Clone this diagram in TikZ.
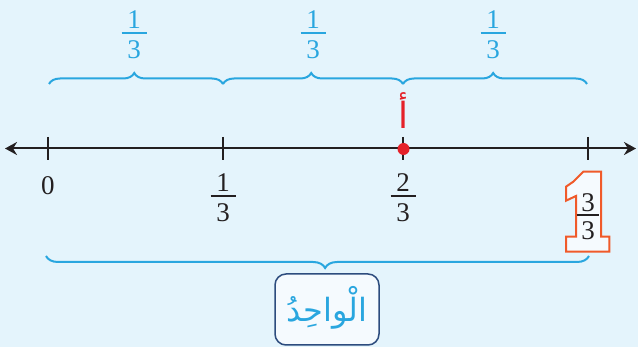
\documentclass[tikz,border=0pt]{standalone}
\usepackage{fontspec}
\setmainfont{Liberation Serif}
\newfontfamily\arabicfont[Script=Arabic]{DejaVu Sans}
\TeXXeTstate=1
\usetikzlibrary{arrows.meta,decorations.pathreplacing}
\definecolor{bgc}{HTML}{E4F4FC}
\definecolor{inner}{HTML}{F5FAFE}
\definecolor{cyanb}{HTML}{29A6DF}
\definecolor{ink}{HTML}{231F20}
\definecolor{redp}{HTML}{E52129}
\definecolor{orangeo}{HTML}{F05A2A}
\definecolor{boxb}{HTML}{2D4C7E}
\newcommand\fracat[8]{% name, x, bar y, num, den, colour, half width, num offset
  \node[digit,text=#6] (#1n) at (#2,#3-#8) {#4};
  \node[digit,text=#6] (#1d) at (#2,#3+16.5) {#5};
  \draw[draw=#6,line width=2pt] (#2-#7,#3) -- (#2+#7,#3);}
\begin{document}
\begin{tikzpicture}[x=1pt,y=-1pt,
  digit/.style={inner sep=0pt,anchor=center,font=\fontsize{27}{30}\selectfont},
  numline/.style={draw=ink,line width=2pt,{Stealth[length=12pt,width=13pt]}-{Stealth[length=12pt,width=13pt]}},
  tick/.style={draw=ink,line width=2.2pt},
  bracetop/.style={draw=cyanb,line width=2pt,decorate,decoration={brace,amplitude=11pt,aspect=0.49}},
  wordbox/.style={draw=boxb,line width=1.5pt,fill=inner,rounded corners=11pt,minimum width=104pt,minimum height=71pt,inner sep=0pt}]
\fill[bgc] (0,0) rectangle (638,347);
\useasboundingbox (0,0) rectangle (638,347);
% top fractions and braces
\fracat{ta}{134}{33}{1}{3}{cyanb}{12.5}{13.5}
\fracat{tb}{313}{33}{1}{3}{cyanb}{12.5}{13.5}
\fracat{tc}{493}{33}{1}{3}{cyanb}{12.5}{13.5}
\coordinate (b0) at (49,84);
\coordinate (b1) at (223,84);
\coordinate (b2) at (403,84);
\coordinate (b3) at (587,84);
\draw[bracetop] (b0) -- (b1);
\draw[bracetop] (b1) -- (b2);
\draw[bracetop] (b2) -- (b3);
% number line
\coordinate (L) at (5,148.5);
\coordinate (R) at (636,148.5);
\draw[numline] (L) -- (R);
\foreach \x/\n in {48/t0,223/t1,403/t2,588/t3}{
  \coordinate (\n a) at (\x,137);
  \coordinate (\n b) at (\x,160);
  \draw[tick] (\n a) -- (\n b);
}
% point A
\node[circle,fill=redp,inner sep=0pt,minimum size=12pt] (pa) at (403.5,149) {};
\node[inner sep=0pt,text=redp,font=\arabicfont\fontsize{36}{40}\selectfont] (la) at (403,111) {\beginR أ\endR};
% bottom labels
\node[digit,text=ink] (zero) at (48,186) {0};
\fracat{ba}{223}{196}{1}{3}{ink}{12.5}{13.5}
\fracat{bb}{403}{196}{2}{3}{ink}{12.5}{13.5}
% outlined one
\draw[draw=orangeo,line width=2pt,fill=inner,line join=miter]
  (583.3,171.7) -- (601,171.7) -- (601,236.7) -- (609.3,236.7) -- (609.3,251.7)
  -- (566,251.7) -- (566,236.7) -- (576,236.7) -- (576,196) -- (566,200.7)
  -- (566,186.7) -- (573.3,181.7) -- cycle;
\node[digit,text=ink] (cn) at (588,203) {3};
\node[digit,text=ink] (cd) at (588,231) {3};
\draw[draw=ink,line width=2pt] (576.5,215) -- (599,215);
% bottom brace
\coordinate (w0) at (589,256);
\coordinate (w1) at (46,256);
\draw[draw=cyanb,line width=2pt,decorate,decoration={brace,amplitude=12pt,aspect=0.486}] (w0) -- (w1);
% word box
\node[wordbox] (box) at (327,309.5) {};
\node[inner sep=0pt,text=cyanb,font=\arabicfont\fontsize{32}{36}\selectfont] (word) at (327,308) {\beginR الْواحِدُ\endR};
\end{tikzpicture}
\end{document}
